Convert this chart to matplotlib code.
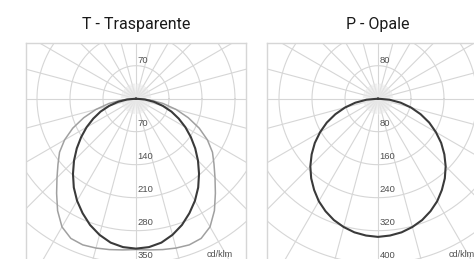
import numpy as np
import matplotlib.pyplot as plt

# angoli dal nadir (gradi) e intensita' (cd/klm)
angoli = [0, 5, 10, 15, 20, 25, 30, 35, 40, 45, 50, 55, 60, 65, 70, 75, 80, 85, 90]

trasp_c0 = [318, 316, 310, 299, 285, 268, 250, 230, 208, 186, 164, 142, 121, 100, 80, 59, 39, 19, 0]
trasp_c90 = [320, 322, 325, 328, 330, 327, 314, 290, 262, 237, 216, 198, 175, 148, 118, 88, 58, 29, 0]
opale_c0 = [335, 333, 329, 322, 313, 301, 287, 270, 252, 232, 210, 187, 162, 137, 110, 83, 56, 28, 0]

trasp_ticks = [70, 70, 140, 210, 280, 350]
opale_ticks = [80, 80, 160, 240, 320, 400]

W, H = 474, 259
PX = 33.0  # pixel per anello

grid_col = '#d6d6d6'


def curva(ax, valori, passo, colore, lw):
    g = np.radians(angoli)
    r = np.array(valori) / passo
    # meta' destra e meta' sinistra (simmetriche)
    x = np.concatenate([-(r * np.sin(g))[::-1], (r * np.sin(g))[1:]])
    y = np.concatenate([-(r * np.cos(g))[::-1], -(r * np.cos(g))[1:]])
    ax.plot(x, y, color=colore, lw=lw, solid_joinstyle='round', zorder=3)


def pannello(left_px, center_px, titolo, ticks, passo, curve):
    top_px = 43
    bottom_px = 330
    cy_px = 98.7
    width_px = 2 * (center_px - left_px)
    ax = plt.gcf().add_axes([left_px / W, (H - bottom_px) / H,
                             width_px / W, (bottom_px - top_px) / H])
    half = (center_px - left_px) / PX
    ax.set_xlim(-half, half)
    ax.set_ylim(-(bottom_px - cy_px) / PX, (cy_px - top_px) / PX)
    ax.set_xticks([])
    ax.set_yticks([])
    for s in ax.spines.values():
        s.set_color(grid_col)
        s.set_linewidth(1.0)

    t = np.linspace(0, 2 * np.pi, 400)
    for k in range(1, 10):
        ax.plot(k * np.cos(t), k * np.sin(t), color=grid_col, lw=0.8, zorder=1)
    for a in range(0, 180, 15):
        a = np.radians(a)
        ax.plot([-12 * np.cos(a), 12 * np.cos(a)], [-12 * np.sin(a), 12 * np.sin(a)],
                color=grid_col, lw=0.8, zorder=1)
    for a in range(0, 180, 5):
        a = np.radians(a)
        ax.plot([-0.45 * np.cos(a), 0.45 * np.cos(a)], [-0.45 * np.sin(a), 0.45 * np.sin(a)],
                color='#e8e8e8', lw=0.5, zorder=1)

    for valori, colore, lw in curve:
        curva(ax, valori, passo, colore, lw)

    # etichette degli anelli
    ax.text(0.04, 1.02, str(ticks[0]), fontsize=6.8, color='#505050',
            ha='left', va='bottom', family='Liberation Sans', zorder=4)
    for k, v in enumerate(ticks[1:], start=1):
        ax.text(0.04, -k + 0.1, str(v), fontsize=6.8, color='#505050',
                ha='left', va='bottom', family='Liberation Sans', zorder=4)
    ax.text(2.15, -4.73, 'cd/klm', fontsize=6.5, color='#505050',
            ha='left', va='center', family='Liberation Sans', zorder=4)

    plt.gcf().text(center_px / W, (H - 25) / H, titolo, fontsize=11.5,
                   ha='center', va='center', color='#1a1a1a',
                   family=['Roboto', 'DejaVu Sans'])
    return ax


fig = plt.figure(figsize=(W / 100, H / 100), dpi=100)

pannello(26, 136, 'T - Trasparente', trasp_ticks, 70,
         [(trasp_c90, '#a0a0a0', 1.1), (trasp_c0, '#3a3a3a', 1.5)])
pannello(267, 378, 'P - Opale', opale_ticks, 80,
         [(opale_c0, '#3a3a3a', 1.5)])

fig.savefig('out.png', dpi=100)
